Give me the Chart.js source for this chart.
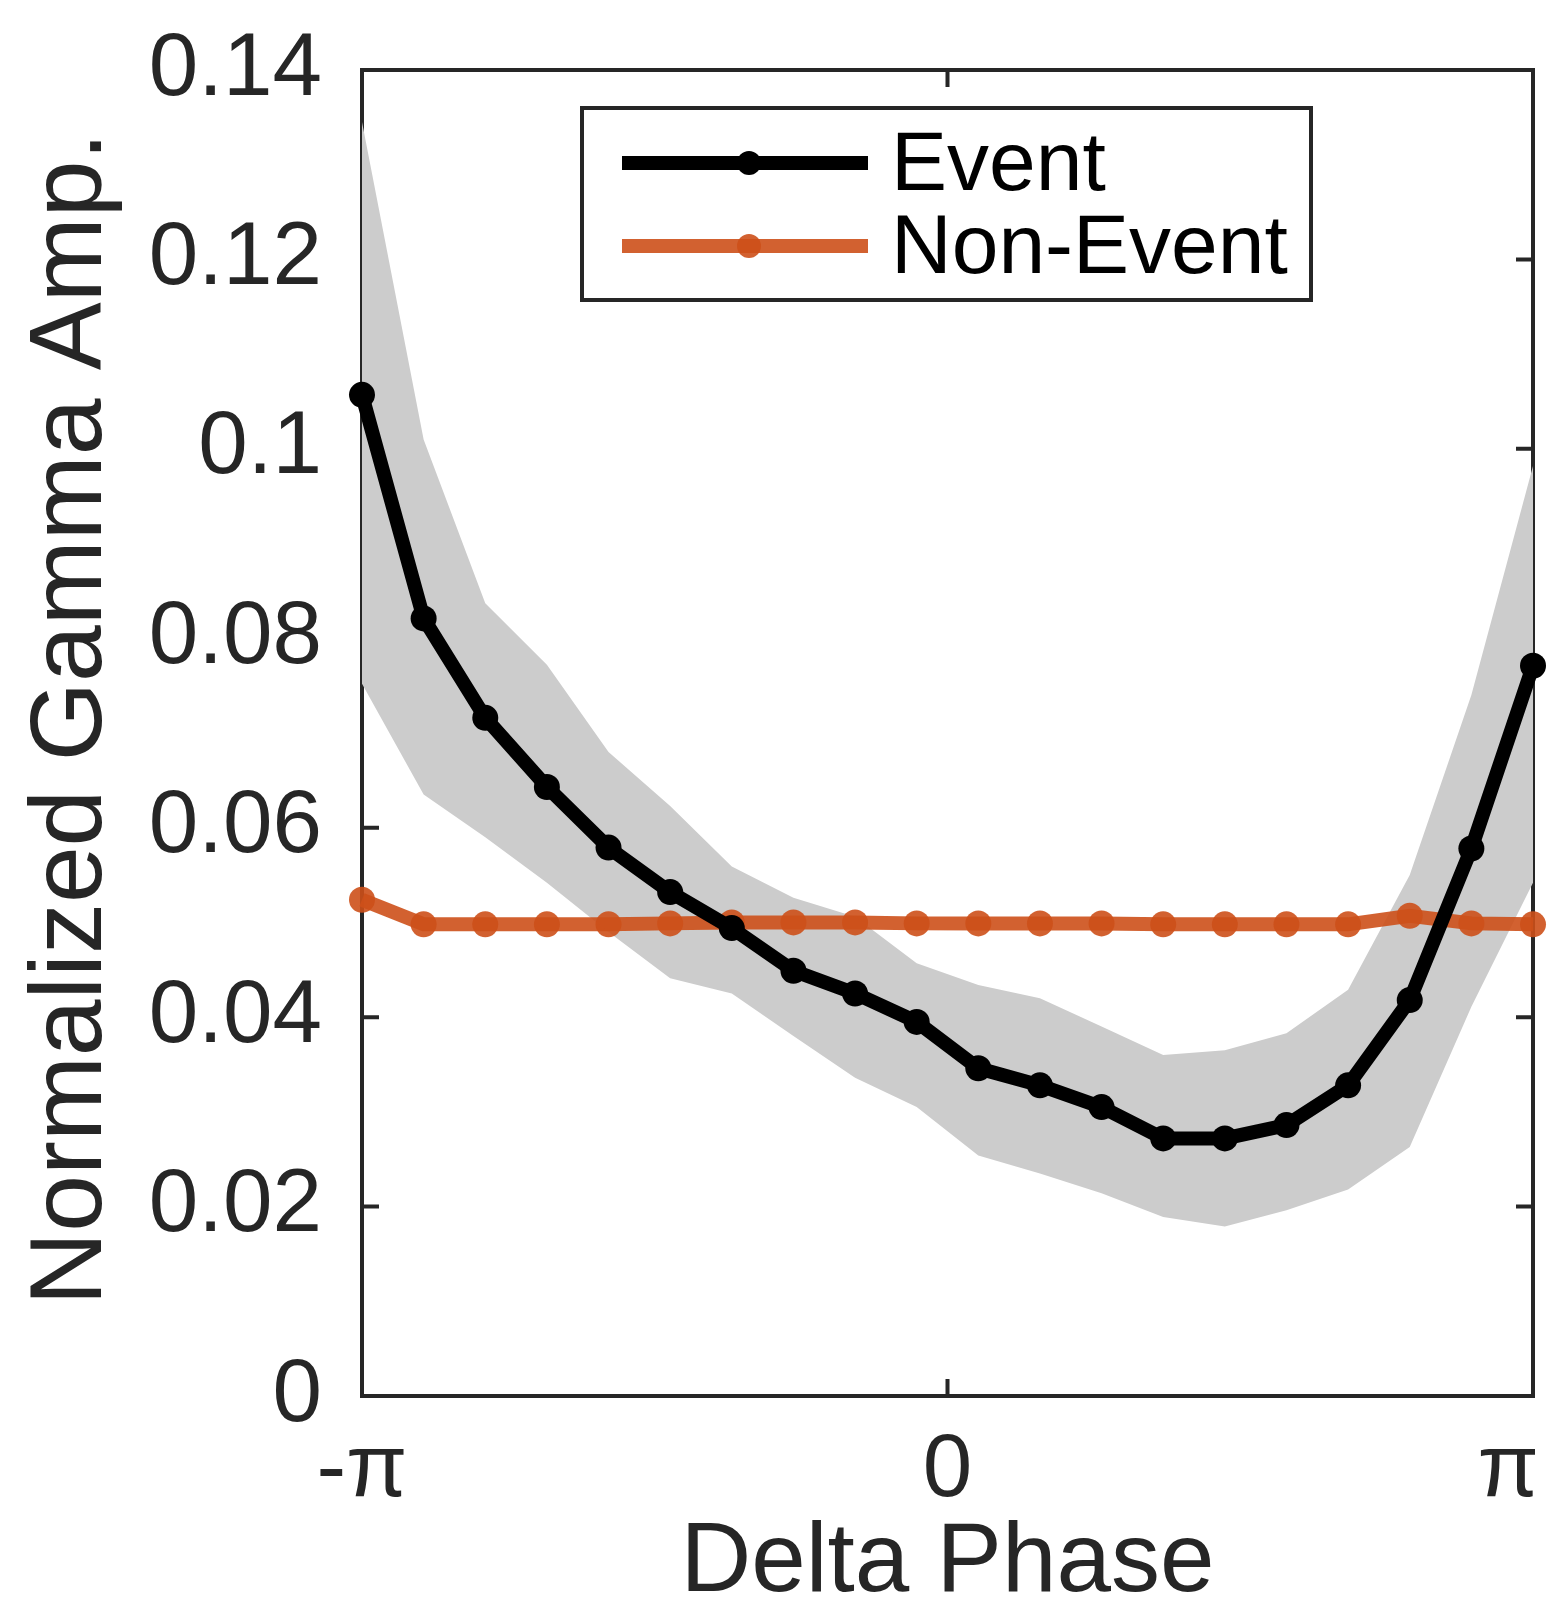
<!DOCTYPE html>
<html>
<head>
<meta charset="utf-8">
<title>Normalized Gamma Amp. vs Delta Phase</title>
<script src="https://cdn.jsdelivr.net/npm/chart.js@4.4.1/dist/chart.umd.min.js"></script>
<style>
  html, body { margin: 0; padding: 0; background: #fff; }
  #wrap { width: 1556px; height: 1609px; }
</style>
</head>
<body>
<div id="wrap"><canvas id="gammaChart" width="1556" height="1609"></canvas></div>
<script>
// delta phase bins (rad), 20 bins from -pi to pi
const phaseBins = [-3.1416, -2.8109, -2.4802, -2.1495, -1.8188, -1.4881, -1.1574, -0.8267, -0.4960, -0.1653,
                   0.1653, 0.4960, 0.8267, 1.1574, 1.4881, 1.8188, 2.1495, 2.4802, 2.8109, 3.1416];

// Event: mean and shaded error band
const eventAmp = [0.1057, 0.0821, 0.0716, 0.0643, 0.0579, 0.0532, 0.0494, 0.0449, 0.0425, 0.0395,
                  0.0346, 0.0328, 0.0305, 0.0272, 0.0272, 0.0286, 0.0328, 0.0418, 0.0578, 0.0771];
const eventUpper = [0.1345, 0.1010, 0.0837, 0.0772, 0.0680, 0.0623, 0.0559, 0.0526, 0.0506, 0.0457,
                    0.0434, 0.0420, 0.0390, 0.0360, 0.0365, 0.0383, 0.0429, 0.0550, 0.0740, 0.0982];
const eventLower = [0.0752, 0.0635, 0.0590, 0.0542, 0.0490, 0.0441, 0.0425, 0.0380, 0.0336, 0.0305,
                    0.0254, 0.0235, 0.0214, 0.0189, 0.0179, 0.0196, 0.0218, 0.0263, 0.0411, 0.0542];

// Non-Event mean
const nonEventAmp = [0.0524, 0.0498, 0.0498, 0.0498, 0.0498, 0.0499, 0.0500, 0.0500, 0.0500, 0.0499,
                     0.0499, 0.0499, 0.0499, 0.0498, 0.0498, 0.0498, 0.0498, 0.0507, 0.0499, 0.0498];

const seriesNames = ['Event', 'Non-Event'];
const xTickValues = [-Math.PI, 0, Math.PI];
const xTickLabels = ['-π', '0', 'π  '];
const yTickValues = [0, 0.02, 0.04, 0.06, 0.08, 0.1, 0.12, 0.14];
const yTickLabels = ['0', '0.02', '0.04', '0.06', '0.08', '0.1', '0.12', '0.14'];

const eventColor = '#000000';
const nonEventColor = 'rgba(205, 80, 25, 0.9)';
const bandColor = '#cccccc';
const axisColor = '#262626';
const fontFamily = "'Liberation Sans', Arial, Helvetica, sans-serif";

const toPoints = vals => vals.map((v, i) => ({ x: phaseBins[i], y: v }));

// box around the axes with inward ticks, drawn under the data like matlab does
const axesBox = {
    id: 'axesBox',
    beforeDatasetsDraw(chart) {
        const { ctx, chartArea: a, scales: { x, y } } = chart;
        const tick = 17;
        ctx.save();
        ctx.strokeStyle = axisColor;
        ctx.lineWidth = 4;
        ctx.beginPath();
        yTickValues.forEach(v => {
            const py = y.getPixelForValue(v);
            ctx.moveTo(a.left, py); ctx.lineTo(a.left + tick, py);
            ctx.moveTo(a.right, py); ctx.lineTo(a.right - tick, py);
        });
        xTickValues.forEach(v => {
            const px = x.getPixelForValue(v);
            ctx.moveTo(px, a.bottom); ctx.lineTo(px, a.bottom - tick);
            ctx.moveTo(px, a.top); ctx.lineTo(px, a.top + tick);
        });
        ctx.stroke();
        ctx.strokeRect(a.left, a.top, a.right - a.left, a.bottom - a.top);
        ctx.restore();
    }
};

// matlab style legend box: line sample with a marker in the middle
const boxLegend = {
    id: 'boxLegend',
    afterDraw(chart) {
        const { ctx, chartArea: a } = chart;
        const left = a.left + 220, top = a.top + 38, w = 729, h = 192;
        const colors = [eventColor, nonEventColor];
        ctx.save();
        ctx.fillStyle = '#ffffff';
        ctx.fillRect(left, top, w, h);
        ctx.strokeStyle = axisColor;
        ctx.lineWidth = 4;
        ctx.strokeRect(left, top, w, h);
        seriesNames.forEach((name, i) => {
            const ly = top + 55 + i * 83;
            ctx.strokeStyle = colors[i];
            ctx.fillStyle = colors[i];
            ctx.lineWidth = 14;
            ctx.beginPath();
            ctx.moveTo(left + 40, ly);
            ctx.lineTo(left + 286, ly);
            ctx.stroke();
            ctx.beginPath();
            ctx.arc(left + 167, ly, 12, 0, Math.PI * 2);
            ctx.fill();
            ctx.fillStyle = '#000000';
            ctx.font = `84px ${fontFamily}`;
            ctx.textBaseline = 'alphabetic';
            ctx.textAlign = 'left';
            ctx.fillText(name, left + 309, top + 82 + i * 83);
        });
        ctx.restore();
    }
};

const ctx = document.getElementById('gammaChart').getContext('2d');
const gammaChart = new Chart(ctx, {
    type: 'line',
    data: {
        datasets: [
            {
                label: seriesNames[0],
                data: toPoints(eventAmp),
                borderColor: eventColor,
                backgroundColor: eventColor,
                borderWidth: 14,
                pointRadius: 13,
                pointBorderWidth: 0,
                pointBackgroundColor: eventColor,
                tension: 0,
                fill: false,
                clip: false
            },
            {
                label: seriesNames[1],
                data: toPoints(nonEventAmp),
                borderColor: nonEventColor,
                backgroundColor: nonEventColor,
                borderWidth: 14,
                pointRadius: 13,
                pointBorderWidth: 0,
                pointBackgroundColor: nonEventColor,
                tension: 0,
                fill: false,
                clip: false
            },
            {
                label: 'bandLow',
                data: toPoints(eventLower),
                borderWidth: 0,
                pointRadius: 0,
                tension: 0,
                fill: false
            },
            {
                label: 'bandHigh',
                data: toPoints(eventUpper),
                borderWidth: 0,
                pointRadius: 0,
                tension: 0,
                backgroundColor: bandColor,
                fill: '-1'
            }
        ]
    },
    options: {
        responsive: false,
        animation: false,
        devicePixelRatio: 1,
        layout: {
            autoPadding: false,
            padding: { top: 70, right: 23, bottom: 0, left: 0 }
        },
        plugins: {
            legend: { display: false },
            tooltip: { enabled: false }
        },
        scales: {
            x: {
                type: 'linear',
                min: -Math.PI,
                max: Math.PI,
                grid: { display: false, drawTicks: false },
                border: { display: false },
                afterBuildTicks: scale => {
                    scale.ticks = xTickValues.map(v => ({ value: v }));
                },
                afterFit: scale => {
                    scale.height = 213;
                    scale.paddingLeft = 0;
                    scale.paddingRight = 0;
                },
                ticks: {
                    autoSkip: false,
                    maxRotation: 0,
                    padding: 22,
                    color: axisColor,
                    font: { family: fontFamily, size: 89 },
                    callback: (value, index) => xTickLabels[index]
                },
                title: {
                    display: true,
                    text: 'Delta Phase',
                    color: axisColor,
                    font: { family: fontFamily, size: 98, lineHeight: 1 },
                    padding: { top: 0, bottom: -4 }
                }
            },
            y: {
                type: 'linear',
                min: 0,
                max: 0.14,
                grid: { display: false, drawTicks: false },
                border: { display: false },
                afterBuildTicks: scale => {
                    scale.ticks = yTickValues.map(v => ({ value: v }));
                },
                afterFit: scale => {
                    scale.width = 362;
                    scale.paddingTop = 0;
                    scale.paddingBottom = 0;
                },
                ticks: {
                    autoSkip: false,
                    padding: 40,
                    color: axisColor,
                    font: { family: fontFamily, size: 89 },
                    callback: (value, index) => yTickLabels[index]
                },
                title: {
                    display: true,
                    text: ' Normalized Gamma Amp.',
                    color: axisColor,
                    font: { family: fontFamily, size: 102, lineHeight: 1 },
                    padding: { top: 22, bottom: 0 }
                }
            }
        }
    },
    plugins: [axesBox, boxLegend]
});
</script>
</body>
</html>
